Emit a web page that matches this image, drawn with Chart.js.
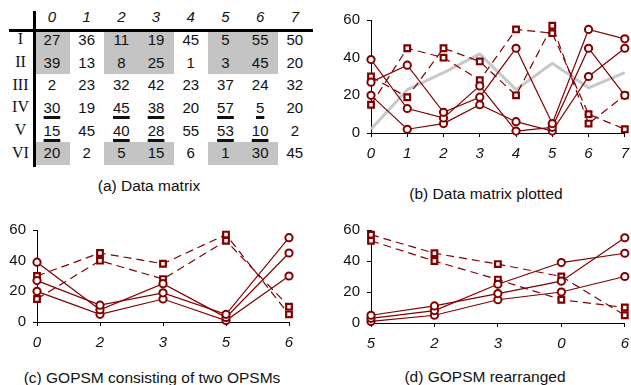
<!DOCTYPE html>
<html>
<head>
<meta charset="utf-8">
<script src="https://cdn.jsdelivr.net/npm/chart.js@4.4.0/dist/chart.umd.min.js"></script>
<style>
  body { margin: 0; width: 631px; height: 385px; background: #fff; position: relative; overflow: hidden;
         font-family: "Liberation Sans", Arial, sans-serif; color: #111; }
  .box { position: absolute; }
  .cap { position: absolute; font-size: 15.5px; white-space: nowrap; transform: translateX(-50%); }
  .cell { position: absolute; display: flex; align-items: center; justify-content: center; font-size: 15px; }
  .hdr { font-style: italic; }
  .rl { font-family: "Liberation Serif", "Times New Roman", serif; font-size: 16px; }
  .ul span { text-decoration: underline; text-decoration-thickness: 2.5px; text-underline-offset: 3px; }
  .shade { position: absolute; background: #c4c4c4; }
  .rule { position: absolute; background: #000; }
</style>
</head>
<body>
<div id="matrix" class="box" style="left:0;top:0;width:320px;height:175px"></div>
<div class="cap" style="left:149px;top:177px">(a) Data matrix</div>

<div class="box" style="left:330px;top:0;width:301px;height:175px"><canvas id="plotB"></canvas></div>
<div class="cap" style="left:486px;top:185px">(b) Data matrix plotted</div>

<div class="box" style="left:0;top:210px;width:310px;height:150px"><canvas id="plotC"></canvas></div>
<div class="cap" style="left:152px;top:369px">(c) GOPSM consisting of two OPSMs</div>

<div class="box" style="left:330px;top:210px;width:301px;height:150px"><canvas id="plotD"></canvas></div>
<div class="cap" style="left:485px;top:368px">(d) GOPSM rearranged</div>

<script>
const cols = ['0', '1', '2', '3', '4', '5', '6', '7'];
const rows = ['I', 'II', 'III', 'IV', 'V', 'VI'];
const rowI   = [27, 36, 11, 19, 45, 5, 55, 50];
const rowII  = [39, 13, 8, 25, 1, 3, 45, 20];
const rowIII = [2, 23, 32, 42, 23, 37, 24, 32];
const rowIV  = [30, 19, 45, 38, 20, 57, 5, 20];
const rowV   = [15, 45, 40, 28, 55, 53, 10, 2];
const rowVI  = [20, 2, 5, 15, 6, 1, 30, 45];
const gopsmCols = [0, 2, 3, 5, 6];       // columns picked for (c)
const rearrangedCols = [5, 2, 3, 0, 6];  // same columns, reordered for (d)
const circleRows = [0, 1, 5];            // I, II, VI  (shaded in the matrix)
const squareRows = [3, 4];               // IV, V      (underlined in the matrix)
const yTicks = [0, 20, 40, 60];

const matrix = [rowI, rowII, rowIII, rowIV, rowV, rowVI];
const red = '#800000';
const grey = '#c8c8c8';

function drawMatrix() {
    const m = document.getElementById('matrix');
    const colW = 34.7, x0 = 34.6, rowH = 22.7, y0 = 28;
    const add = (cls, x, y, w, h, text) => {
        const d = document.createElement('div');
        d.className = cls;
        d.style.left = x + 'px'; d.style.top = y + 'px';
        d.style.width = w + 'px'; d.style.height = h + 'px';
        if (text !== undefined) {
            const s = document.createElement('span');
            s.textContent = text;
            d.appendChild(s);
        }
        m.appendChild(d);
    };
    // grey blocks behind the two OPSM row groups
    circleRows.forEach(i => {
        gopsmCols.forEach(j => {
            let top = y0 + i * rowH;
            let h = rowH;
            if (i == 0) { h -= 32 - top; top = 32; }
            add('shade', x0 + j * colW, top, colW + 0.5, h + 0.5);
        });
    });
    cols.forEach((c, j) => add('cell hdr', x0 + j * colW, 4, colW, 24, c));
    rows.forEach((r, i) => {
        add('cell rl', 0, y0 + i * rowH, 41, rowH, r);
        matrix[i].forEach((v, j) => {
            let cls = 'cell';
            if (squareRows.includes(i) && gopsmCols.includes(j)) cls += ' ul';
            add(cls, x0 + j * colW, y0 + i * rowH, colW, rowH, String(v));
        });
    });
    add('rule', 9, 29.4, 304, 2.8);
    add('rule', 33.2, 11, 2.6, 156);
}

function rowDataset(i, colIdx) {
    const values = colIdx.map(j => matrix[i][j]);
    if (circleRows.includes(i)) {
        return { data: values, borderColor: red, borderWidth: 1.2, pointStyle: 'circle',
                 pointRadius: 3.6, pointBorderWidth: 2, pointBackgroundColor: '#fff',
                 pointBorderColor: red, clip: false, order: 0 };
    }
    if (squareRows.includes(i)) {
        return { data: values, borderColor: red, borderWidth: 1.2, borderDash: [8, 5], pointStyle: 'rect',
                 pointRadius: 4, pointBorderWidth: 2.2, pointBackgroundColor: '#fff',
                 pointBorderColor: red, clip: false, order: 0 };
    }
    return { data: values, borderColor: grey, borderWidth: 3, pointRadius: 0, clip: false, order: 1 };
}

function makeChart(id, labels, datasets, yWidth, xHeight, padRight) {
    const font = { family: '"Liberation Sans", Arial, sans-serif', size: 15 };
    return new Chart(id, {
        type: 'line',
        data: { labels: labels, datasets: datasets },
        options: {
            responsive: true,
            maintainAspectRatio: false,
            animation: false,
            layout: { padding: { top: 20, right: padRight, left: 0, bottom: 0 } },
            plugins: { legend: { display: false }, tooltip: { enabled: false } },
            scales: {
                x: {
                    offset: false,
                    grid: { drawOnChartArea: false, drawTicks: true, tickLength: 4, color: '#000' },
                    border: { display: true, color: '#000', width: 1 },
                    ticks: { color: '#111', padding: 8, maxRotation: 0, autoSkip: false,
                             font: Object.assign({ style: 'italic' }, font) },
                    afterFit: s => { s.height = xHeight; s.paddingLeft = 0; s.paddingRight = 0; }
                },
                y: {
                    min: yTicks[0],
                    max: yTicks[yTicks.length - 1],
                    afterBuildTicks: s => { s.ticks = yTicks.map(v => ({ value: v })); },
                    grid: { drawOnChartArea: false, drawTicks: true, tickLength: 4, color: '#000' },
                    border: { display: true, color: '#000', width: 1 },
                    ticks: { color: '#111', padding: 7, font: font },
                    afterFit: s => { s.width = yWidth; s.paddingTop = 0; s.paddingBottom = 0; }
                }
            }
        }
    });
}

drawMatrix();

const allRows = [0, 1, 2, 3, 4, 5];
const allCols = cols.map((c, j) => j);
makeChart('plotB', cols, allRows.map(i => rowDataset(i, allCols)), 41, 42, 6);

const gopsmRows = circleRows.concat(squareRows);
makeChart('plotC', gopsmCols.map(j => cols[j]), gopsmRows.map(i => rowDataset(i, gopsmCols)), 37, 38, 21);
makeChart('plotD', rearrangedCols.map(j => cols[j]), gopsmRows.map(i => rowDataset(i, rearrangedCols)), 41, 37, 3);
</script>
</body>
</html>
